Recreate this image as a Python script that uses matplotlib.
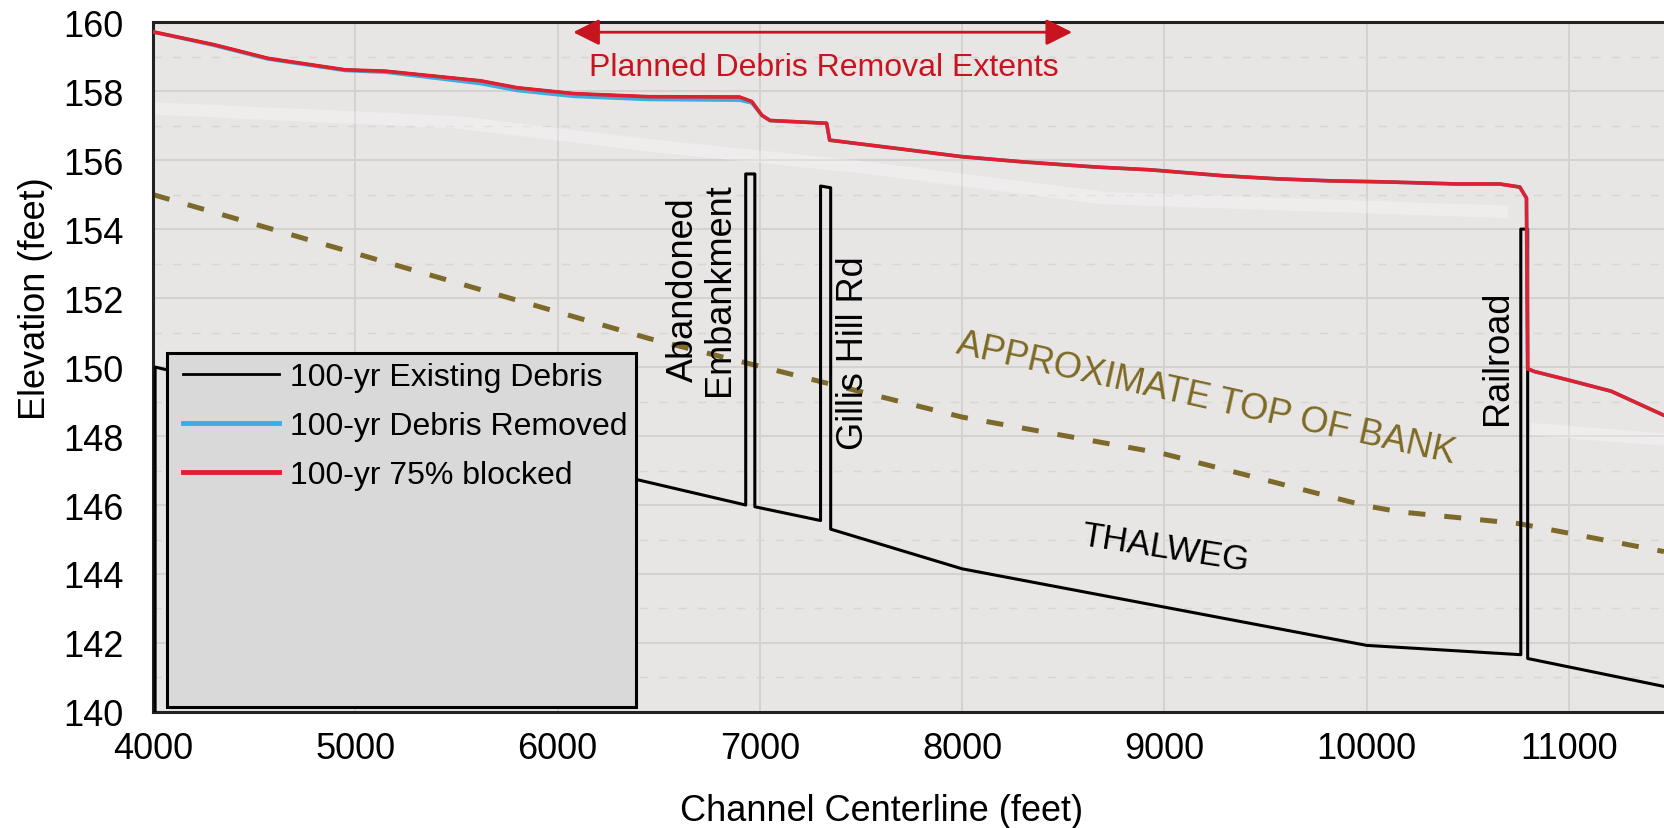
import matplotlib
matplotlib.use('Agg')
import matplotlib.pyplot as plt
from matplotlib.lines import Line2D
from matplotlib.patches import Rectangle
import numpy as np

plt.rcParams['font.family'] = ['Liberation Sans', 'DejaVu Sans']

# water surface, 100-yr 75% blocked (station ft, elevation ft)
wse_x = [4000, 4300, 4570, 4950, 5150, 5620, 5800, 6080, 6450, 6900, 6960, 7010,
         7050, 7330, 7345, 7690, 8000, 8300, 8663, 8930, 9286, 9553, 9820, 10087,
         10444, 10657, 10757, 10790, 10796, 10830, 11000, 11209, 11470]
blocked_y = [159.72, 159.35, 158.95, 158.62, 158.58, 158.30, 158.10, 157.93, 157.84,
             157.83, 157.70, 157.30, 157.15, 157.07, 156.58, 156.33, 156.10, 155.95,
             155.80, 155.72, 155.55, 155.46, 155.40, 155.37, 155.31, 155.31, 155.22,
             154.90, 149.95, 149.87, 149.62, 149.30, 148.60]
existing_y = list(blocked_y)
removed_y = [159.72, 159.33, 158.93, 158.60, 158.55, 158.22, 158.02, 157.85, 157.76,
             157.74, 157.66, 157.30, 157.15, 157.07, 156.58, 156.33, 156.10, 155.95,
             155.80, 155.72, 155.55, 155.46, 155.40, 155.37, 155.31, 155.31, 155.22,
             154.90, 149.95, 149.87, 149.62, 149.30, 148.60]

# faint erased profile visible in the background
ghost_x = [4000, 5500, 6500, 7500, 8700, 10700, np.nan, 10810, 11470]
ghost_y = [157.5, 157.1, 156.4, 155.8, 154.9, 154.5, np.nan, 148.2, 147.9]

# channel thalweg with structures
thalweg_x = [4010, 4010, 6930, 6930, 6975, 6975, 7300, 7300, 7350, 7350, 8000,
             10000, 10762, 10762, 10796, 10796, 11470]
thalweg_y = [140.0, 150.0, 146.0, 155.6, 155.6, 145.95, 145.55, 155.25, 155.2, 145.3,
             144.15, 141.93, 141.66, 154.0, 154.0, 141.55, 140.74]

# approximate top of bank
bank_x = [4000, 6457, 7693, 8000, 8994, 9993, 10166, 10754, 11470]
bank_y = [155.0, 150.82, 149.0, 148.55, 147.49, 145.98, 145.8, 145.46, 144.65]

labels = ['100-yr Existing Debris', '100-yr Debris Removed', '100-yr 75% blocked']
x_ticks = list(range(4000, 11001, 1000))
y_ticks = list(range(140, 161, 2))

fig = plt.figure(figsize=(16.64, 8.29), dpi=100)
ax = fig.add_axes([0.092, 0.14, 0.908, 0.832])
ax.set_facecolor('#e8e5e5')

ax.set_xlim(4000, 11470)
ax.set_ylim(140, 160)

# grid
for v in x_ticks[1:]:
    ax.axvline(v, color='#d4d1d1', lw=1.4, zorder=0)
for v in y_ticks[1:-1]:
    ax.axhline(v, color='#d4d1d1', lw=1.4, zorder=0)
for v in range(141, 160, 2):
    ax.axhline(v, color='#d8d5d5', lw=1.0, ls=(0, (6, 8)), zorder=0)

ax.plot(ghost_x, ghost_y, color='white', lw=9, alpha=0.28, zorder=1,
        solid_capstyle='butt')

ax.plot(bank_x, bank_y, color='#7d6a2a', lw=3.6, dashes=(3.4, 3.8),
        dash_capstyle='butt', zorder=2)
ax.plot(thalweg_x, thalweg_y, color='black', lw=2.2, zorder=3)

l_ex, = ax.plot(wse_x, existing_y, color='black', lw=2.0, zorder=3)
l_rm, = ax.plot(wse_x, removed_y, color='#3aaee0', lw=2.6, zorder=3)
l_bl, = ax.plot(wse_x, blocked_y, color='#e0202e', lw=2.6, zorder=4)

# legend box
ax.add_patch(Rectangle((4069, 140.15), 6388 - 4069, 150.4 - 140.15,
                       facecolor='#d9d9d9', edgecolor='black', lw=2.2, zorder=5))
handles = [Line2D([], [], color='black', lw=2.0),
           Line2D([], [], color='#3aaee0', lw=3.5),
           Line2D([], [], color='#e0202e', lw=3.5)]
leg = ax.legend(handles, labels, loc='upper left', bbox_to_anchor=(4148, 150.15),
                bbox_transform=ax.transData, frameon=False, borderpad=0,
                borderaxespad=0, handlelength=3.0, handletextpad=0.35,
                labelspacing=0.6, fontsize=23)
leg.set_zorder(6)

# annotations
ax.annotate('', xy=(6077, 159.71), xytext=(8544, 159.71),
            arrowprops=dict(arrowstyle='<|-|>', color='#c8141e', lw=2,
                            mutation_scale=40, shrinkA=0, shrinkB=0), zorder=4)
ax.text(7318, 158.70, 'Planned Debris Removal Extents', color='#c8141e',
        fontsize=23, ha='center', va='center', zorder=4)
ax.text(6710, 152.27, 'Abandoned\nEmbankment', rotation=90, fontsize=26,
        ha='center', va='center', multialignment='center', linespacing=1.05, zorder=4)
ax.text(7461, 150.43, 'Gillis Hill Rd', rotation=90, fontsize=26,
        ha='center', va='center', zorder=4)
ax.text(10645, 150.3, 'Railroad', rotation=90, fontsize=26,
        ha='center', va='center', zorder=4)
ax.text(9206, 149.1, 'APPROXIMATE TOP OF BANK', rotation=-12.5, rotation_mode='anchor',
        color='#7d6a24', fontsize=26, ha='center', va='center', zorder=4)
ax.text(9004, 144.75, 'THALWEG', rotation=-8.9, rotation_mode='anchor',
        fontsize=25, ha='center', va='center', zorder=4)

ax.set_xticks(x_ticks)
ax.set_yticks(y_ticks)
ax.tick_params(axis='both', length=0, labelsize=26)
ax.tick_params(axis='y', pad=21)
ax.tick_params(axis='x', pad=14)

ax.set_xlabel('Channel Centerline (feet)', fontsize=26)
ax.set_ylabel('Elevation (feet)', fontsize=26)
ax.xaxis.set_label_coords(0.482, -0.118)
ax.yaxis.set_label_coords(-0.066, 0.6)

for side in ['top', 'left', 'bottom']:
    ax.spines[side].set_linewidth(2.2)
    ax.spines[side].set_color('#222222')
ax.spines['right'].set_visible(False)

fig.savefig('out.png', dpi=100)
